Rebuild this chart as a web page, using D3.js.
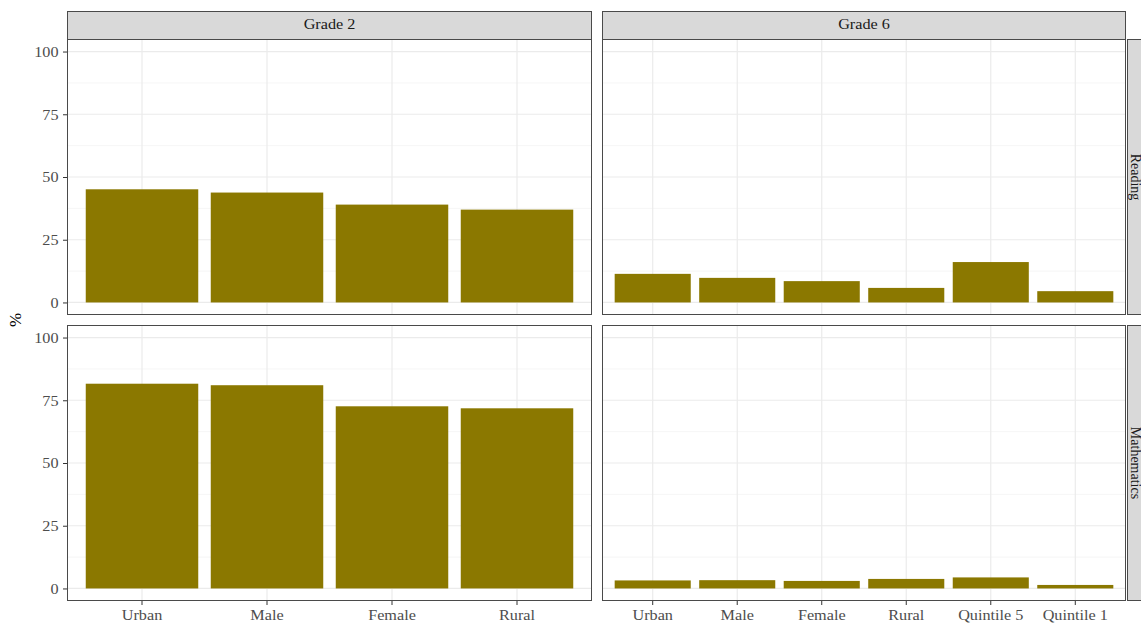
<!DOCTYPE html>
<html>
<head>
<meta charset="utf-8">
<script src="https://cdn.jsdelivr.net/npm/d3@7"></script>
<style>
  html, body { margin: 0; padding: 0; background: #fff; }
  svg { display: block; }
  text { font-family: "Liberation Serif", "DejaVu Serif", serif; }
</style>
</head>
<body>
<svg id="chart" width="1141" height="623"></svg>
<script>
// Category labels per grade
const grade2Groups = ["Urban", "Male", "Female", "Rural"];
const grade6Groups = ["Urban", "Male", "Female", "Rural", "Quintile 5", "Quintile 1"];

// Share of pupils (%) by subject and grade
const grade2Reading = [45.1, 43.8, 39.0, 37.0];
const grade2Maths   = [81.6, 81.0, 72.6, 71.8];
const grade6Reading = [11.4, 9.8, 8.5, 5.8, 16.1, 4.5];
const grade6Maths   = [3.2, 3.3, 3.0, 3.8, 4.4, 1.4];

const columnTitles = ["Grade 2", "Grade 6"];
const rowTitles = ["Reading", "Mathematics"];
const yTicks = [0, 25, 50, 75, 100];
const yMinor = [12.5, 37.5, 62.5, 87.5];

const svg = d3.select("#chart");

const barColor = "#8b7800";
const borderColor = "#4a4a4a";
const gridMajor = "#ebebeb";
const gridMinor = "#f4f4f4";
const fontSize = "15px";
const stretch = 1.08;   // slightly widened lettering

// Panel geometry
const cols = [{x0: 67, x1: 592}, {x0: 602, x1: 1126}];
const rows = [{y0: 39, y1: 315}, {y0: 325, y1: 601}];
const stripTop = 11;
const stripRightX = 1127;
const stripW = 28;
const tickLen = 4, tickPad = 4.5;

const panels = [
  {r: 0, c: 0, groups: grade2Groups, values: grade2Reading},
  {r: 0, c: 1, groups: grade6Groups, values: grade6Reading},
  {r: 1, c: 0, groups: grade2Groups, values: grade2Maths},
  {r: 1, c: 1, groups: grade6Groups, values: grade6Maths}
];

panels.forEach(p => {
  const {x0, x1} = cols[p.c];
  const {y0, y1} = rows[p.r];
  const x = d3.scaleBand().domain(p.groups).range([x0, x1])
    .paddingInner(0.1).paddingOuter(0.15);
  const y = d3.scaleLinear().domain([-5, 105]).range([y1, y0]);
  const g = svg.append("g");

  g.append("rect").attr("x", x0).attr("y", y0)
    .attr("width", x1 - x0).attr("height", y1 - y0).attr("fill", "#fff");

  // minor grid
  g.selectAll(".ymin").data(yMinor).join("line")
    .attr("x1", x0).attr("x2", x1)
    .attr("y1", d => y(d)).attr("y2", d => y(d))
    .attr("stroke", gridMinor).attr("stroke-width", 0.8);
  // major grid
  g.selectAll(".ymaj").data(yTicks).join("line")
    .attr("x1", x0).attr("x2", x1)
    .attr("y1", d => y(d)).attr("y2", d => y(d))
    .attr("stroke", gridMajor).attr("stroke-width", 1.2);
  g.selectAll(".xmaj").data(p.groups).join("line")
    .attr("x1", d => x(d) + x.bandwidth() / 2).attr("x2", d => x(d) + x.bandwidth() / 2)
    .attr("y1", y0).attr("y2", y1)
    .attr("stroke", gridMajor).attr("stroke-width", 1.2);

  // bars
  g.selectAll(".bar").data(p.values).join("rect")
    .attr("x", (d, i) => x(p.groups[i]))
    .attr("width", x.bandwidth())
    .attr("y", d => y(d))
    .attr("height", d => y(0) - y(d))
    .attr("fill", barColor);

  // border
  g.append("rect").attr("x", x0 + 0.5).attr("y", y0 + 0.5)
    .attr("width", x1 - x0 - 1).attr("height", y1 - y0 - 1)
    .attr("fill", "none").attr("stroke", borderColor).attr("stroke-width", 1);

  // y axis on left column
  if (p.c === 0) {
    const ax = g.append("g").attr("transform", `translate(${x0},0)`)
      .call(d3.axisLeft(y).tickValues(yTicks).tickSize(tickLen).tickPadding(tickPad));
    ax.select(".domain").remove();
    ax.selectAll(".tick line").attr("stroke", "#333");
    ax.selectAll(".tick text").attr("fill", "#4d4d4d")
      .style("font-size", fontSize).style("font-family", "Liberation Serif, serif")
      .attr("x", -(tickLen + tickPad) / stretch)
      .attr("transform", `scale(${stretch},1)`);
  }
  // x axis on bottom row
  if (p.r === 1) {
    const ax = g.append("g").attr("transform", `translate(0,${y1})`)
      .call(d3.axisBottom(x).tickSize(tickLen).tickPadding(tickPad));
    ax.select(".domain").remove();
    ax.selectAll(".tick line").attr("stroke", "#333");
    ax.selectAll(".tick text").attr("fill", "#4d4d4d")
      .style("font-size", fontSize).style("font-family", "Liberation Serif, serif")
      .attr("transform", `scale(${stretch},1)`);
  }
});

// column strips
cols.forEach((c, i) => {
  svg.append("rect").attr("x", c.x0 + 0.5).attr("y", stripTop + 0.5)
    .attr("width", c.x1 - c.x0 - 1).attr("height", rows[0].y0 - stripTop)
    .attr("fill", "#d9d9d9").attr("stroke", borderColor).attr("stroke-width", 1);
  svg.append("text")
    .attr("transform", `translate(${(c.x0 + c.x1) / 2},${(stripTop + rows[0].y0) / 2 + 1}) scale(${stretch},1)`)
    .attr("text-anchor", "middle").attr("dominant-baseline", "middle")
    .attr("fill", "#1a1a1a").style("font-size", fontSize).text(columnTitles[i]);
});

// row strips (label reads top to bottom, baseline toward the panel)
rows.forEach((r, i) => {
  svg.append("rect").attr("x", stripRightX + 0.5).attr("y", r.y0 + 0.5)
    .attr("width", stripW).attr("height", r.y1 - r.y0 - 1)
    .attr("fill", "#d9d9d9").attr("stroke", borderColor).attr("stroke-width", 1);
  const cy = (r.y0 + r.y1) / 2;
  svg.append("text").attr("transform", `translate(${stripRightX + 3.5},${cy}) rotate(90)`)
    .attr("text-anchor", "middle")
    .attr("fill", "#1a1a1a").style("font-size", "14px").text(rowTitles[i]);
});

// y-axis title
svg.append("text").attr("transform", `translate(17,${(rows[0].y0 + rows[1].y1) / 2}) rotate(-90)`)
  .attr("text-anchor", "middle").attr("dominant-baseline", "middle")
  .attr("fill", "#000").style("font-size", "17px").text("%");
</script>
</body>
</html>
